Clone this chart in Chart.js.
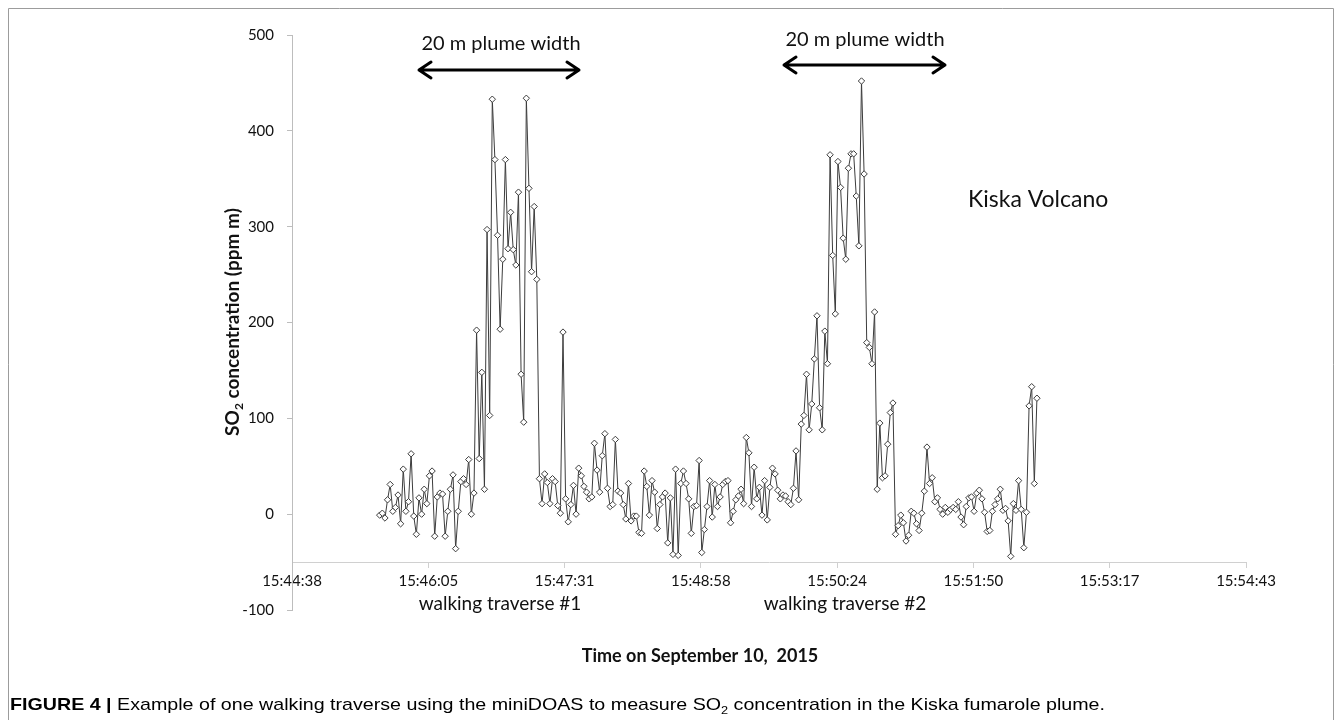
<!DOCTYPE html>
<html>
<head>
<meta charset="utf-8">
<script src="https://cdn.jsdelivr.net/npm/chart.js@4.4.1/dist/chart.umd.min.js"></script>
<style>
  html, body { margin: 0; padding: 0; background: #fff; }
  #wrap { position: relative; width: 1342px; height: 720px; }
  canvas { display: block; }
</style>
</head>
<body>
<div id="wrap"><canvas id="c" width="1342" height="720"></canvas></div>
<script>
// miniDOAS SO2 column amounts (ppm m), one value per spectrum, in acquisition order
const so2Values = [
  -1, 1, -4, 15, 31, 3, 7, 20, -10, 47,
  3, 13, 63, -2, -21, 17, 0, 26, 11, 40,
  45, -23, 18, 22, 21, -23, 3, 26, 41, -36,
  3, 34, 37, 31, 57, 0, 22, 192, 58, 148,
  26, 297, 103, 433, 370, 291, 193, 266, 370, 277,
  315, 276, 260, 336, 146, 96, 434, 340, 253, 321,
  245, 37, 11, 42, 33, 11, 37, 34, 9, 1,
  190, 16, -8, 10, 30, 0, 48, 40, 29, 23,
  16, 18, 74, 46, 23, 61, 84, 27, 8, 10,
  78, 24, 22, 10, -5, 32, -7, -2, -2, -19,
  -20, 45, 29, -1, 35, 23, -15, 10, 18, 22,
  -30, 17, -42, 47, -43, 32, 45, 32, 16, -20,
  8, 9, 56, -40, -16, 8, 35, -3, 31, 8,
  18, 31, 34, 35, -9, 3, 15, 19, 26, 11,
  80, 64, 8, 49, 16, 28, -1, 35, -6, 28,
  48, 42, 25, 16, 20, 19, 13, 10, 27, 66,
  15, 94, 103, 146, 88, 115, 162, 207, 111, 88,
  191, 157, 375, 270, 209, 368, 341, 288, 266, 361,
  376, 376, 332, 280, 452, 355, 179, 174, 157, 211,
  26, 95, 38, 40, 73, 106, 116, -21, -12, -1,
  -9, -28, -22, 3, 1, -10, -17, 1, 24, 70,
  32, 38, 13, 17, 5, 0, 7, 2, 5, 7,
  5, 13, -3, -11, 8, 17, 18, 3, 22, 25,
  16, 2, -18, -17, 3, 10, 16, 26, 4, 6,
  -7, -44, 11, 4, 35, 5, -35, 2, 113, 133,
  32, 121
];

// acquisition clock
const firstSampleTime = '15:45:34';
const sampleIntervalSec = 1.66;

// time axis: labels every 0.001 day (86.4 s)
const timeTickLabels = ['15:44:38', '15:46:05', '15:47:31', '15:48:58', '15:50:24', '15:51:50', '15:53:17', '15:54:43'];
const timeTickStepSec = 86.4;

// concentration axis
const so2TickValues = [-100, 0, 100, 200, 300, 400, 500];

const toSec = s => { const p = s.split(':').map(Number); return p[0] * 3600 + p[1] * 60 + p[2]; };
const t0 = toSec(firstSampleTime);
const axisStart = 0.656 * 86400;
const axisEnd = axisStart + timeTickStepSec * (timeTickLabels.length - 1);

const points = so2Values.map((v, i) => ({ x: t0 + i * sampleIntervalSec, y: v }));

const FONT = "Lato, 'Open Sans', sans-serif";
const INK = '#111';

function drawArrow(ctx, x1, x2, y) {
  const head = 13, half = 8;
  ctx.save();
  ctx.strokeStyle = '#000';
  ctx.lineWidth = 3;
  ctx.lineCap = 'round';
  ctx.lineJoin = 'round';
  ctx.beginPath();
  ctx.moveTo(x1 + 1, y); ctx.lineTo(x2 - 1, y);
  ctx.moveTo(x1 + head, y - half); ctx.lineTo(x1 + 1, y); ctx.lineTo(x1 + head, y + half);
  ctx.moveTo(x2 - head, y - half); ctx.lineTo(x2 - 1, y); ctx.lineTo(x2 - head, y + half);
  ctx.stroke();
  ctx.restore();
}

// draws text pieces [{t, font, sub}] in a row starting at x, baseline y
function drawRuns(ctx, runs, x, y) {
  let cx = x;
  runs.forEach(r => {
    ctx.font = r.font;
    ctx.fillText(r.t, cx, y + (r.sub ? r.sub : 0));
    cx += ctx.measureText(r.t).width;
  });
  return cx - x;
}
function runsWidth(ctx, runs) {
  let w = 0;
  runs.forEach(r => { ctx.font = r.font; w += ctx.measureText(r.t).width; });
  return w;
}

const decorations = {
  id: 'decorations',
  afterDraw(chart) {
    const ctx = chart.ctx;
    ctx.save();

    // figure frame
    ctx.strokeStyle = '#9c9c9c';
    ctx.lineWidth = 1;
    ctx.beginPath();
    ctx.moveTo(8.5, 740); ctx.lineTo(8.5, 8.5); ctx.lineTo(1333.5, 8.5); ctx.lineTo(1333.5, 740);
    ctx.stroke();

    ctx.fillStyle = INK;
    ctx.textBaseline = 'middle';

    // plume width markers
    ctx.textAlign = 'center';
    ctx.font = `20px ${FONT}`;
    ctx.fillText('20 m plume width', 501, 44);
    ctx.fillText('20 m plume width', 865, 40);
    drawArrow(ctx, 418, 580, 70);
    drawArrow(ctx, 783, 946, 65);

    // site label
    ctx.textAlign = 'left';
    ctx.font = `23px ${FONT}`;
    ctx.fillText('Kiska Volcano', 968, 200);

    // traverse labels
    ctx.textAlign = 'center';
    ctx.font = `19px ${FONT}`;
    ctx.fillText('walking traverse #1', 500, 604);
    ctx.fillText('walking traverse #2', 845, 604);

    // x title
    ctx.font = `bold 18px ${FONT}`;
    ctx.fillText('Time on September 10,  2015', 700, 656);

    // y title with subscript
    ctx.save();
    ctx.translate(239, 322);
    ctx.rotate(-Math.PI / 2);
    ctx.textBaseline = 'alphabetic';
    ctx.textAlign = 'left';
    const yRuns = [
      { t: 'SO', font: `bold 19px ${FONT}` },
      { t: '2', font: `bold 12px ${FONT}`, sub: 4 },
      { t: ' concentration (ppm m)', font: `bold 19px ${FONT}` }
    ];
    const yw = runsWidth(ctx, yRuns);
    drawRuns(ctx, yRuns, -yw / 2, 0);
    ctx.restore();

    // caption
    ctx.save();
    ctx.textBaseline = 'alphabetic';
    ctx.textAlign = 'left';
    ctx.fillStyle = '#000';
    const capFont = "'Liberation Sans Narrow', 'Liberation Sans', Arial, sans-serif";
    const capRuns = [
      { t: 'FIGURE 4 |', font: `bold 17px ${capFont}` },
      { t: ' Example of one walking traverse using the miniDOAS to measure SO', font: `17px ${capFont}` },
      { t: '2', font: `11px ${capFont}`, sub: 4 },
      { t: ' concentration in the Kiska fumarole plume.', font: `17px ${capFont}` }
    ];
    const cw = runsWidth(ctx, capRuns);
    const sx = 1095 / cw;
    ctx.translate(10, 710);
    ctx.scale(sx, 1);
    drawRuns(ctx, capRuns, 0, 0);
    ctx.restore();

    ctx.restore();
  }
};

const ctx = document.getElementById('c').getContext('2d');

new Chart(ctx, {
  type: 'line',
  data: {
    datasets: [{
      data: points,
      borderColor: '#3c3c3c',
      borderWidth: 1,
      tension: 0,
      pointStyle: 'rectRot',
      pointRadius: 3.2,
      pointBackgroundColor: '#ffffff',
      pointBorderColor: '#3c3c3c',
      pointBorderWidth: 1,
      clip: false
    }]
  },
  options: {
    responsive: false,
    animation: false,
    devicePixelRatio: 1,
    layout: { padding: { left: 232, right: 96, top: 35, bottom: 110 } },
    plugins: { legend: { display: false }, tooltip: { enabled: false } },
    scales: {
      x: {
        type: 'linear',
        position: { y: -50 },
        min: axisStart,
        max: axisEnd,
        afterBuildTicks: s => { s.ticks = timeTickLabels.map((l, i) => ({ value: axisStart + i * timeTickStepSec })); },
        afterFit: s => { s.height = 0; },
        ticks: {
          autoSkip: false, maxRotation: 0, padding: 5, color: INK,
          font: { family: FONT, size: 15 },
          callback: (v, i) => timeTickLabels[i]
        },
        grid: { drawOnChartArea: false, drawTicks: true, tickLength: 5, color: '#d0d0d0' },
        border: { color: '#d0d0d0', width: 1 }
      },
      y: {
        position: 'left',
        min: so2TickValues[0],
        max: so2TickValues[so2TickValues.length - 1],
        afterBuildTicks: s => { s.ticks = so2TickValues.map(v => ({ value: v })); },
        afterFit: s => { s.width = 60; },
        ticks: { padding: 13, color: INK, font: { family: FONT, size: 15 } },
        grid: { drawOnChartArea: false, drawTicks: true, tickLength: 5, color: '#bdbdbd' },
        border: { color: '#bdbdbd', width: 1 }
      }
    }
  },
  plugins: [decorations]
});
</script>
</body>
</html>
